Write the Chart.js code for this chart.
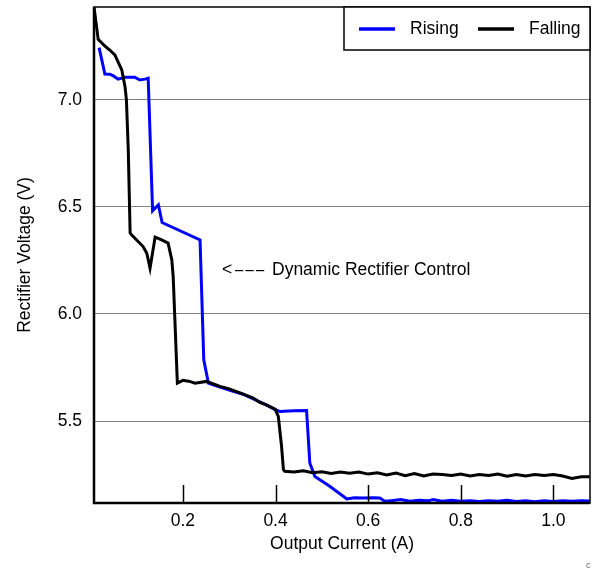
<!DOCTYPE html>
<html>
<head>
<meta charset="utf-8">
<script src="https://cdn.jsdelivr.net/npm/chart.js@4.4.0/dist/chart.umd.min.js"></script>
<style>
  html, body { margin: 0; padding: 0; background: #fff; }
  #wrap { width: 592px; height: 573px; }
</style>
</head>
<body>
<div id="wrap"><canvas id="rectChart" width="592" height="573"></canvas></div>
<script>
// Rectifier voltage vs output current
const risingX = [0.019, 0.0315, 0.042, 0.05, 0.06, 0.075, 0.096, 0.107, 0.118, 0.125,
    0.1345, 0.147, 0.155, 0.237, 0.245, 0.255, 0.27, 0.30, 0.33, 0.36, 0.38, 0.399,
    0.409, 0.44, 0.467, 0.474, 0.485, 0.517, 0.554, 0.57, 0.59, 0.61, 0.625, 0.636,
    0.65, 0.67, 0.69, 0.71, 0.73, 0.74, 0.76, 0.78, 0.80, 0.82, 0.84, 0.86, 0.88,
    0.90, 0.92, 0.94, 0.96, 0.98, 1.00, 1.02, 1.04, 1.06, 1.078];
const risingY = [7.244, 7.121, 7.12, 7.112, 7.097, 7.106, 7.106, 7.093, 7.097, 7.101,
    6.482, 6.51, 6.427, 6.346, 5.786, 5.677, 5.665, 5.645, 5.625, 5.595, 5.575, 5.553,
    5.545, 5.548, 5.549, 5.304, 5.241, 5.195, 5.136, 5.142, 5.14, 5.142, 5.14, 5.125,
    5.128, 5.133, 5.125, 5.13, 5.127, 5.133, 5.125, 5.13, 5.125, 5.128, 5.124, 5.128, 5.125,
    5.13, 5.124, 5.128, 5.123, 5.127, 5.124, 5.128, 5.125, 5.128, 5.126];

const fallingX = [0.008, 0.017, 0.03, 0.042, 0.053, 0.068, 0.075, 0.078, 0.082, 0.086,
    0.089, 0.114, 0.122, 0.129, 0.14, 0.154, 0.168, 0.176, 0.179, 0.188, 0.2, 0.215,
    0.226, 0.251, 0.28, 0.30, 0.323, 0.352, 0.366, 0.38, 0.399, 0.406, 0.413, 0.417,
    0.42, 0.44, 0.46, 0.48, 0.50, 0.52, 0.54, 0.56, 0.58, 0.60, 0.62, 0.64, 0.66, 0.68,
    0.70, 0.72, 0.74, 0.76, 0.78, 0.80, 0.82, 0.84, 0.86, 0.88, 0.90, 0.92, 0.94, 0.96,
    0.98, 1.00, 1.02, 1.04, 1.06, 1.078];
const fallingY = [7.435, 7.283, 7.255, 7.233, 7.21, 7.14, 7.062, 7.0, 6.767, 6.378,
    6.37, 6.315, 6.284, 6.214, 6.359, 6.346, 6.331, 6.253, 6.175, 5.677, 5.69, 5.685,
    5.677, 5.685, 5.662, 5.65, 5.631, 5.607, 5.587, 5.575, 5.556, 5.522, 5.382, 5.273,
    5.265, 5.262, 5.268, 5.258, 5.263, 5.255, 5.262, 5.256, 5.262, 5.252, 5.258, 5.248, 5.257, 5.245,
    5.255, 5.243, 5.252, 5.25, 5.245, 5.252, 5.243, 5.25, 5.245, 5.252, 5.242, 5.25, 5.243, 5.25,
    5.245, 5.25, 5.243, 5.232, 5.24, 5.24];

const xTicks = [0.2, 0.4, 0.6, 0.8, 1.0];
const yTicks = [5.5, 6.0, 6.5, 7.0];

const FONT = "'Liberation Sans', Arial, sans-serif";
const FONT_SIZE = 17.5;

function toPoints(xs, ys) {
    return xs.map((x, i) => ({ x: x, y: ys[i] }));
}

// Frame, inward x ticks, legend and annotation
const decorPlugin = {
    id: 'decor',
    afterDraw(chart) {
        const ctx = chart.ctx;
        const area = chart.chartArea;
        const xs = chart.scales.x;
        ctx.save();

        // plot frame
        ctx.strokeStyle = '#000';
        ctx.lineWidth = 1.5;
        ctx.strokeRect(area.left, area.top, area.right - area.left, area.bottom - area.top);
        ctx.lineWidth = 2.5;
        ctx.beginPath();
        ctx.moveTo(area.left, area.top);
        ctx.lineTo(area.left, area.bottom);
        ctx.lineTo(area.right, area.bottom);
        ctx.stroke();

        // inward tick marks on x axis
        ctx.lineWidth = 1.5;
        xTicks.forEach(v => {
            const px = Math.round(xs.getPixelForValue(v)) + 0.5;
            ctx.beginPath();
            ctx.moveTo(px, area.bottom);
            ctx.lineTo(px, area.bottom - 18);
            ctx.stroke();
        });

        // legend box
        const lx = 344, ly = area.top, lw = area.right - 344, lh = 43;
        ctx.fillStyle = '#fff';
        ctx.fillRect(lx, ly, lw, lh);
        ctx.lineWidth = 1.5;
        ctx.strokeRect(lx, ly, lw, lh);
        ctx.font = FONT_SIZE + 'px ' + FONT;
        ctx.textBaseline = 'middle';
        ctx.textAlign = 'left';
        const items = [
            { ds: chart.data.datasets[1], x: 359 },
            { ds: chart.data.datasets[0], x: 478 }
        ];
        items.forEach(it => {
            ctx.strokeStyle = it.ds.borderColor;
            ctx.lineWidth = 3.5;
            ctx.beginPath();
            ctx.moveTo(it.x, ly + 22);
            ctx.lineTo(it.x + 36, ly + 22);
            ctx.stroke();
            ctx.fillStyle = '#000';
            ctx.fillText(it.ds.label, it.x + 51, ly + 22);
        });

        // annotation
        ctx.fillStyle = '#000';
        ctx.fillText('<', 222, 270);
        for (let i = 0; i < 3; i++) {
            ctx.save();
            ctx.translate(235 + i * 10.5, 270);
            ctx.scale(0.85, 1);
            ctx.fillText('\u2013', 0, 0);
            ctx.restore();
        }
        ctx.fillText('Dynamic Rectifier Control', 272, 270);

        // stray mark in corner
        ctx.fillStyle = '#666';
        ctx.font = '9px ' + FONT;
        ctx.fillText('c', 586, 566);
        ctx.restore();
    }
};

const ctx = document.getElementById('rectChart');
new Chart(ctx, {
    type: 'line',
    data: {
        datasets: [
            {
                label: 'Falling',
                data: toPoints(fallingX, fallingY),
                borderColor: '#000000',
                borderWidth: 3,
                pointRadius: 0,
                tension: 0,
                fill: false
            },
            {
                label: 'Rising',
                data: toPoints(risingX, risingY),
                borderColor: '#0000ff',
                borderWidth: 3,
                pointRadius: 0,
                tension: 0,
                fill: false
            }
        ]
    },
    options: {
        responsive: false,
        animation: false,
        layout: { padding: { top: 7, right: 2, left: 0, bottom: 0 } },
        plugins: {
            legend: { display: false },
            tooltip: { enabled: false }
        },
        scales: {
            x: {
                type: 'linear',
                min: 0.008,
                max: 1.079,
                afterBuildTicks: axis => { axis.ticks = xTicks.map(v => ({ value: v })); },
                afterFit: axis => {
                    axis.height = 70;
                    axis.paddingLeft = 0;
                    axis.paddingRight = 0;
                },
                grid: { display: false },
                border: { display: false },
                ticks: {
                    color: '#000',
                    padding: 0,
                    maxRotation: 0,
                    font: { family: FONT, size: FONT_SIZE },
                    callback: v => v.toFixed(1)
                },
                title: {
                    display: true,
                    text: 'Output Current (A)',
                    color: '#000',
                    font: { family: FONT, size: FONT_SIZE },
                    padding: { top: 0, bottom: 18.5 }
                }
            },
            y: {
                type: 'linear',
                min: 5.117,
                max: 7.434,
                afterBuildTicks: axis => { axis.ticks = yTicks.map(v => ({ value: v })); },
                afterFit: axis => {
                    axis.width = 94;
                    axis.paddingTop = 0;
                    axis.paddingBottom = 0;
                },
                grid: { color: '#808080', lineWidth: 1, drawTicks: false },
                border: { display: false },
                ticks: {
                    color: '#000',
                    padding: 12,
                    font: { family: FONT, size: FONT_SIZE },
                    callback: v => v.toFixed(1)
                },
                title: {
                    display: true,
                    text: 'Rectifier Voltage (V)',
                    color: '#000',
                    font: { family: FONT, size: FONT_SIZE },
                    padding: { top: 14.5, bottom: 0 }
                }
            }
        }
    },
    plugins: [decorPlugin]
});
</script>
</body>
</html>
